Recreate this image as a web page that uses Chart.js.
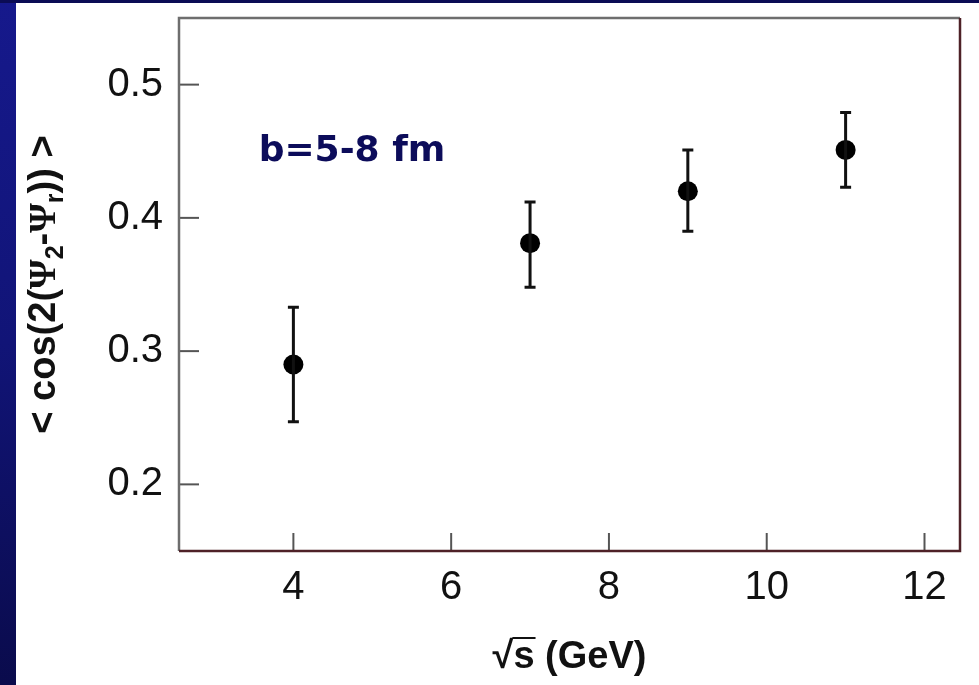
<!DOCTYPE html>
<html>
<head>
<meta charset="utf-8">
<script src="https://cdn.jsdelivr.net/npm/chart.js@4.4.1/dist/chart.umd.min.js"></script>
<style>
  html, body { margin: 0; padding: 0; background: #fff; }
  #wrap { position: relative; width: 979px; height: 685px; }
</style>
</head>
<body>
<div id="wrap"><canvas id="grafico" width="979" height="685"></canvas></div>
<script>
// sqrt(s) em GeV e <cos(2(Psi2-Psir))> com barras de erro
const energias = [4, 7, 9, 11];
const cosMedio = [0.290, 0.381, 0.420, 0.451];
const erroInf = [0.247, 0.348, 0.390, 0.423];
const erroSup = [0.333, 0.412, 0.451, 0.479];

const ticksX = [4, 6, 8, 10, 12];
const ticksY = [0.2, 0.3, 0.4, 0.5];

const rotulo = 'b=5-8 fm';
const rotuloPos = [3.56, 0.4425];

// pedaços do título do eixo y: [texto, subscrito?, serifa?]
const tituloY = [
  ['< cos(2(', false, false],
  ['Ψ', false, true],
  ['2', true, false],
  ['-', false, false],
  ['Ψ', false, true],
  ['r', true, false],
  [')) >', false, false]
];

const fundo = {
  id: 'fundo',
  beforeDraw(chart) {
    const ctx = chart.ctx;
    ctx.save();
    ctx.fillStyle = '#ffffff';
    ctx.fillRect(0, 0, chart.width, chart.height);
    const grad = ctx.createLinearGradient(0, 0, 0, chart.height);
    grad.addColorStop(0, '#16198c');
    grad.addColorStop(0.5, '#111477');
    grad.addColorStop(1, '#0a0b4c');
    ctx.fillStyle = grad;
    ctx.fillRect(0, 0, 16, chart.height);
    ctx.fillStyle = '#0b0c55';
    ctx.fillRect(0, 0, chart.width, 3);
    ctx.restore();
  }
};

const barrasErro = {
  id: 'barrasErro',
  afterDatasetsDraw(chart) {
    const ctx = chart.ctx;
    const x = chart.scales.x, y = chart.scales.y;
    ctx.save();
    ctx.strokeStyle = '#111';
    ctx.lineWidth = 3;
    energias.forEach((e, i) => {
      const px = x.getPixelForValue(e);
      const top = y.getPixelForValue(erroSup[i]);
      const bot = y.getPixelForValue(erroInf[i]);
      ctx.beginPath();
      ctx.moveTo(px, top); ctx.lineTo(px, bot);
      ctx.moveTo(px - 5.5, top); ctx.lineTo(px + 5.5, top);
      ctx.moveTo(px - 5.5, bot); ctx.lineTo(px + 5.5, bot);
      ctx.stroke();
    });
    ctx.restore();
  }
};

const moldura = {
  id: 'moldura',
  afterDraw(chart) {
    const ctx = chart.ctx;
    const a = chart.chartArea;
    const x = chart.scales.x, y = chart.scales.y;
    ctx.save();
    // marcas para dentro
    ctx.strokeStyle = '#555';
    ctx.lineWidth = 2;
    ticksY.forEach(v => {
      const py = y.getPixelForValue(v);
      ctx.beginPath(); ctx.moveTo(a.left, py); ctx.lineTo(a.left + 20, py); ctx.stroke();
    });
    ticksX.forEach(v => {
      const px = x.getPixelForValue(v);
      ctx.beginPath(); ctx.moveTo(px, a.bottom); ctx.lineTo(px, a.bottom - 18); ctx.stroke();
    });
    ctx.lineWidth = 2.5;
    ctx.strokeStyle = '#6e6e6e';
    ctx.beginPath();
    ctx.moveTo(a.left, a.bottom); ctx.lineTo(a.left, a.top); ctx.lineTo(a.right, a.top);
    ctx.stroke();
    ctx.strokeStyle = '#4e2127';
    ctx.beginPath();
    ctx.moveTo(a.left, a.bottom); ctx.lineTo(a.right, a.bottom); ctx.lineTo(a.right, a.top);
    ctx.stroke();

    // rótulo dentro do gráfico
    ctx.fillStyle = '#0c0c5a';
    ctx.font = 'bold 36px "DejaVu Sans"';
    ctx.textBaseline = 'alphabetic';
    ctx.textAlign = 'left';
    ctx.fillText(rotulo, x.getPixelForValue(rotuloPos[0]), y.getPixelForValue(rotuloPos[1]));

    // título do eixo x com radical
    const cx = (a.left + a.right) / 2;
    const base = 668;
    ctx.fillStyle = '#111';
    ctx.font = 'bold 38px "Liberation Sans"';
    const partes = ['√', 's', ' (GeV)'];
    const larg = partes.map(p => ctx.measureText(p).width);
    let px = cx - (larg[0] + larg[1] + larg[2]) / 2;
    ctx.fillText(partes[0], px, base);
    const topoRad = base - ctx.measureText('√').actualBoundingBoxAscent;
    ctx.lineWidth = 2;
    ctx.strokeStyle = '#111';
    ctx.beginPath();
    ctx.moveTo(px + larg[0] - 1, topoRad + 1);
    ctx.lineTo(px + larg[0] + larg[1] + 1, topoRad + 1);
    ctx.stroke();
    px += larg[0];
    ctx.fillText(partes[1], px, base);
    px += larg[1];
    ctx.fillText(partes[2], px, base);

    // título do eixo y, girado
    const fonte = (sub, serif) => 'bold ' + (sub ? 25 : 38) + 'px ' + (serif ? '"Liberation Serif"' : '"Liberation Sans"');
    let total = 0;
    tituloY.forEach(([t, sub, serif]) => { ctx.font = fonte(sub, serif); total += ctx.measureText(t).width; });
    ctx.translate(55, (a.top + a.bottom) / 2);
    ctx.rotate(-Math.PI / 2);
    let pos = -total / 2;
    tituloY.forEach(([t, sub, serif]) => {
      ctx.font = fonte(sub, serif);
      ctx.fillText(t, pos, sub ? 8 : 0);
      pos += ctx.measureText(t).width;
    });
    ctx.restore();
  }
};

new Chart(document.getElementById('grafico'), {
  type: 'scatter',
  data: {
    datasets: [{
      label: '<cos(2(Ψ2-Ψr))>',
      data: energias.map((e, i) => ({ x: e, y: cosMedio[i] })),
      backgroundColor: '#000',
      borderWidth: 0,
      pointRadius: 10,
      pointHoverRadius: 10
    }]
  },
  options: {
    responsive: false,
    animation: false,
    devicePixelRatio: 1,
    layout: { padding: { left: 0, top: 18, right: 19, bottom: 0 } },
    plugins: { legend: { display: false }, tooltip: { enabled: false } },
    scales: {
      x: {
        type: 'linear',
        min: 2.55,
        max: 12.45,
        grid: { display: false },
        border: { display: false },
        afterBuildTicks: s => { s.ticks = ticksX.map(v => ({ value: v })); },
        afterFit: s => { s.height = 134; s.paddingLeft = 0; s.paddingRight = 0; },
        ticks: {
          color: '#111',
          padding: 5,
          font: { family: 'Liberation Sans', size: 40 },
          callback: v => String(v)
        }
      },
      y: {
        type: 'linear',
        min: 0.15,
        max: 0.55,
        grid: { display: false },
        border: { display: false },
        afterBuildTicks: s => { s.ticks = ticksY.map(v => ({ value: v })); },
        afterFit: s => { s.width = 179; s.paddingTop = 0; s.paddingBottom = 0; },
        ticks: {
          color: '#111',
          padding: 8,
          font: { family: 'Liberation Sans', size: 40 },
          callback: v => v.toFixed(1)
        }
      }
    }
  },
  plugins: [fundo, barrasErro, moldura]
});
</script>
</body>
</html>
